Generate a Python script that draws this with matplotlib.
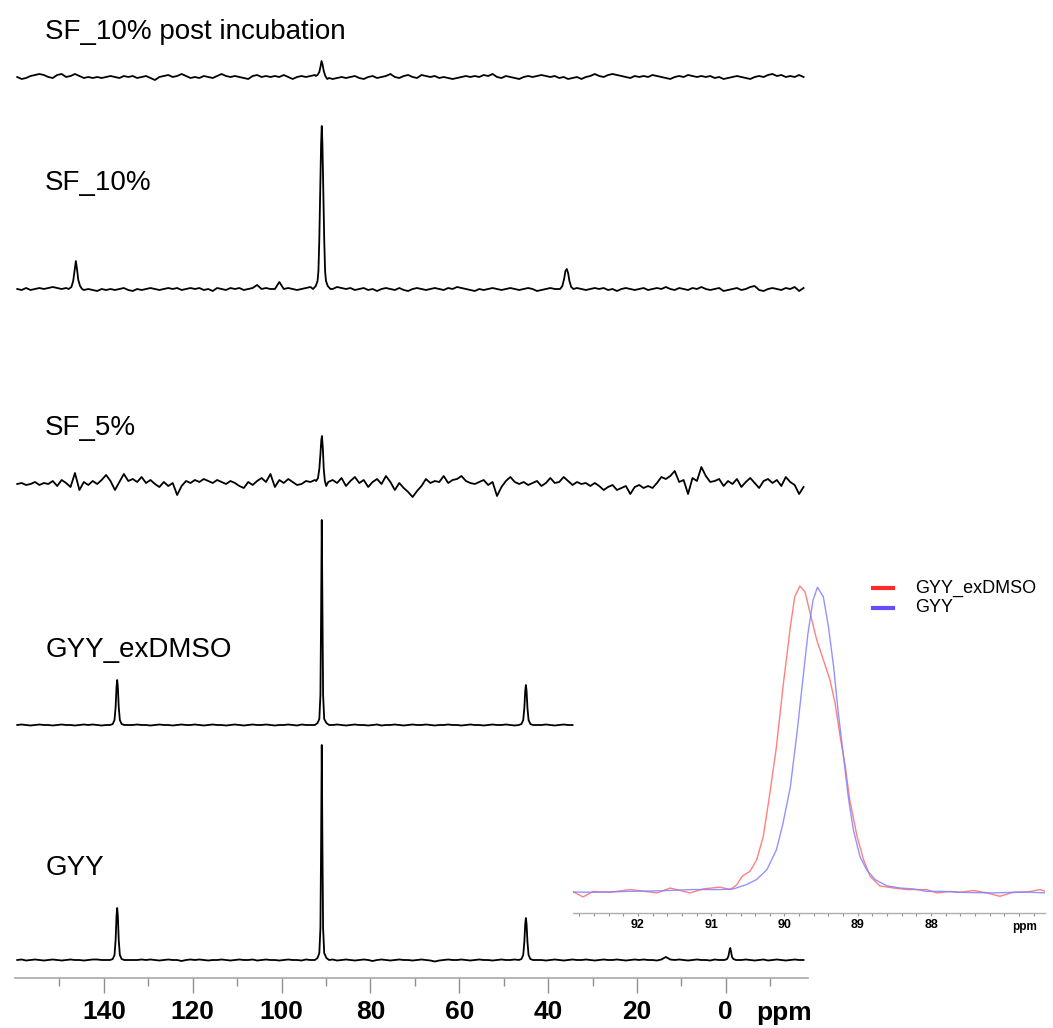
import numpy as np
import matplotlib
matplotlib.use('Agg')
import matplotlib.pyplot as plt
from matplotlib import font_manager
from matplotlib.lines import Line2D

# 字体: 刻度用窄体粗字
names = {f.name for f in font_manager.fontManager.ttflist}
NARROW = 'Liberation Sans Narrow' if 'Liberation Sans Narrow' in names else 'Liberation Sans'
TICK_SIZE = 22 if NARROW == 'Liberation Sans Narrow' else 19
plt.rcParams['font.family'] = ['Liberation Sans', 'DejaVu Sans']

# ---------------- data ----------------
# baseline noise sampled every 1 ppm from 159.5 down to -17.5 (height above baseline)
ppm_grid = np.arange(159.5, -18.0, -1.0)

post_noise = [0, -2, -1, 1, 2, 3, 2, 0, -1, 2,
              3, 0, 1, 3, 1, -1, 0, -1, 0, -1,
              0, 1, 0, -1, 1, 0, 1, -1, 0, 1,
              -1, -3, 0, 1, 2, 0, 1, 3, 1, -1,
              0, -1, 1, 0, -1, 1, 3, 1, 0, 1,
              0, -1, -2, 1, 2, 0, 1, 0, 1, 0,
              2, 0, -2, 0, 1, 0, 1, 2, 0, 0,
              0, -2, -1, 0, -1, 0, 1, -1, -2, 0,
              1, -1, 0, 1, 3, 0, -1, 1, 2, 0,
              -1, 2, 1, 0, 1, -1, 0, -1, -2, -1,
              0, 1, 0, 1, 0, 2, 1, 3, 0, -1,
              1, 0, -1, -2, 0, 1, 0, 1, 2, 1,
              0, 1, -1, 0, -2, -1, 0, -2, 0, 1,
              3, 1, 0, 2, 3, 2, 1, 0, -1, 1,
              0, 1, 0, 2, 1, 0, -1, -2, 0, 1,
              0, 2, 1, 0, 1, 0, 1, -1, 0, -2,
              -1, 0, 1, 0, -1, -2, 0, 1, 0, 2,
              3, 1, 2, 0, 1, 0, 2, 0]

sf10_noise = [0, -1, 1, -1, 0, 1, 0, 1, 2, 1,
              0, 1, 0, 0, 0, -1, 0, -1, -2, 0,
              -1, 0, -1, 0, 1, -1, -2, 0, -1, 0,
              1, 0, -1, 0, 1, 0, 1, -1, 0, 1,
              0, 1, -1, 0, -2, 1, 0, -1, 1, 0,
              1, -1, 0, 1, 4, 0, 1, 0, 0, 7,
              0, 1, 0, -1, 0, 1, 2, 0, 0, 0,
              0, 0, 2, 1, 0, 1, -1, 0, 1, -1,
              0, -2, 0, 1, 0, -1, 1, -1, -2, 0,
              1, 0, -1, 0, 1, 0, -1, 1, 0, 2,
              1, 0, -1, -2, 0, -1, 0, 1, 0, -1,
              0, 1, 0, -1, 0, 1, 0, -2, -1, 0,
              1, 0, 0, 0, 0, 0, 1, 0, -1, 0,
              1, 0, 1, -1, 0, -2, 0, 1, 0, -1,
              0, 1, -1, 0, 1, 0, 2, 0, -1, 1,
              0, -1, 1, 0, 2, 0, -1, 0, 1, -2,
              -1, 0, 1, -1, 0, 2, 3, -1, -2, 0,
              1, 0, -1, 1, 0, 2, -2, 1]

sf5_noise = [0, 1, -1, 0, 2, -1, 1, 0, 3, -2,
             4, 1, -3, 11, -6, 2, -1, 3, 0, 4,
             9, 3, -6, 2, 10, 3, 5, 2, 7, 1,
             4, 0, -3, 2, -2, 1, -11, -2, 3, 1,
             4, 2, 5, 3, 1, 4, 2, 0, 3, 1,
             -2, -4, 2, -1, 3, 6, 2, 10, -3, 4,
             1, 5, 2, -1, 0, 3, 2, 4, 0, 0,
             0, 4, 1, 6, -2, 3, 7, 1, 4, -3,
             2, 5, 0, 8, 2, -6, 1, -4, -8, -13,
             -7, -2, 5, 1, 3, 2, 8, 1, 4, 5,
             8, 3, 1, 0, 2, 4, -1, 2, -12, -3,
             3, 7, 2, 0, 2, -1, 1, 3, -2, 1,
             6, 1, 2, 7, 3, -1, 2, 0, 1, -2,
             1, -2, -6, -3, -1, -6, -4, -2, -10, -3,
             -1, -4, -2, -4, 1, 7, 5, 8, 13, 2,
             4, -10, 6, 3, 17, 8, 2, 3, 5, -2,
             3, 0, 5, -3, 2, 6, 1, -4, 3, 5,
             1, 4, -2, 7, 2, -1, -10, -3]

exdmso_noise = [0, 0.5, 0, -0.5, 0, 0.5, 0, 0, -0.5, 0,
                0.5, 0, 0, -0.5, 0, 0.5, 0, 0.5, 0, -0.5,
                0, 0, 0, 0, 0, 0, 0, 0.5, 0, 0,
                -0.5, 0, 0.5, 0, 0, -0.5, 0, 0.5, 0, 0,
                0.5, 0, -0.5, 0, 0.5, 0, 0, -0.5, 0, 0.5,
                0, -0.5, 0, 0.5, 0, 0, 0.5, 0, -0.5, 0,
                0, 0.5, 0, -0.5, 0.5, 0, 0, 0, 0, 0,
                0, 0, 0.5, 0, -0.5, 0, 0.5, 0, 0, -0.5,
                0, 0.5, -0.5, 0, 0, 0.5, 0, -0.5, 0, 0.5,
                0, 0, 0.5, 0, -0.5, 0, 0, 0.5, 0, 0,
                -0.5, 0, 0.5, 0, 0, -0.5, 0, 0.5, 0, 0,
                0.5, 0, -0.5, 0, 0, 0, 0, 0, 0, 0.5,
                0, -0.5, 0, 0.5, 0, 0]

gyy_noise = [0, 0.5, -0.5, 0, 0.5, 0, -0.5, 0, 0.5, 0,
             -0.5, 0, 0.5, 0, 0, -0.5, 0, 0.5, 0.5, 0,
             0, -0.5, 0, 0, 0, 0, 0, 0, 0.5, 0,
             0.5, 0, -0.5, 0, 0.5, 0, 0, -1, 0, 0.5,
             0, 0.5, 0, -0.5, 0, 0, 0.5, 0, -0.5, 0,
             0.5, 0, 0, 0.5, -0.5, 0, 0.5, 0, 0, -0.5,
             0, 0.5, 0, 0, -0.5, 0.5, 0, 0, 0, 0,
             0, 0.5, -0.5, 0, 0.5, 0, -0.5, 0, 0.5, 0,
             -1, 0, 0.5, 0, -0.5, 0, 0.5, 0, 0, -0.5,
             0, 0.5, 0, -0.5, -1.5, -0.5, 0, 0.5, 0, 0,
             0.5, 0, -0.5, 0, 0.5, 0, 0, -0.5, 0, 0.5,
             0, 0, 0.5, 0, 0, 0, 0, 0, 0, -0.5,
             0, 0.5, 0, -0.5, 0, 0.5, 0, 0, 0.5, 0,
             -0.5, 0, 0.5, 0, 0, 0.5, 0, -0.5, 0, 0.5,
             0, 0.5, 0, 0, -0.5, 0.5, 3, 0.5, 0, 0.5,
             0, -0.5, 0, 0.5, 0, 0, -0.5, 0.5, 0, 0,
             0, 0, 0, 0, 0.5, 0, -0.5, 0, 0.5, -0.5,
             0, 0.5, 0, -0.5, 0, 0.5, 0, 0]

# peaks: (ppm points, heights)
post_peaks = [([92.3, 91.9, 91.5, 91.25, 91.0, 90.75, 90.5, 90.15, 89.7, 89.3],
               [1, 2, 5, 10, 16, 12, 6, 1, -2, -1])]

sf10_peaks = [([147.9, 147.3, 146.9, 146.6, 146.3, 146.05, 145.75, 145.35, 144.9],
               [0, 2, 8, 18, 28, 20, 9, 3, 0]),
              ([92.9, 92.3, 91.9, 91.7, 91.5, 91.3, 91.1, 90.95, 90.8, 90.6, 90.4, 90.2, 90.0, 89.6, 89.0],
               [0, 3, 8, 18, 50, 100, 145, 163, 145, 100, 50, 18, 8, 3, 0]),
              ([37.3, 36.8, 36.4, 36.1, 35.8, 35.5, 35.2, 34.8, 34.3],
               [0, 3, 10, 18, 20, 16, 8, 2, 0])]

sf5_peaks = [([92.2, 91.8, 91.5, 91.25, 91.05, 90.9, 90.7, 90.5, 90.25, 89.95, 89.5],
              [3, 6, 15, 30, 44, 48, 35, 15, 3, -2, 2])]

exdmso_peaks = [([138.6, 138.0, 137.6, 137.35, 137.15, 137.0, 136.85, 136.65, 136.4, 136.0, 135.4],
                 [0, 1, 5, 18, 38, 45, 38, 18, 5, 1, 0]),
                ([92.5, 91.9, 91.5, 91.25, 91.1, 90.95, 90.8, 90.65, 90.4, 89.9, 89.3],
                 [0, 2, 6, 30, 110, 205, 110, 30, 6, 2, 0]),
                ([46.6, 46.0, 45.6, 45.35, 45.15, 45.0, 44.85, 44.65, 44.4, 44.0, 43.4],
                 [0, 1, 5, 17, 34, 40, 34, 17, 5, 1, 0])]

gyy_peaks = [([138.6, 138.0, 137.6, 137.35, 137.15, 137.0, 136.85, 136.65, 136.4, 136.0, 135.4],
              [0, 1, 5, 20, 44, 52, 44, 20, 5, 1, 0]),
             ([92.5, 91.9, 91.5, 91.25, 91.1, 90.95, 90.8, 90.65, 90.4, 89.9, 89.3],
              [0, 2, 7, 32, 115, 215, 115, 32, 7, 2, 0]),
             ([46.6, 46.0, 45.6, 45.35, 45.15, 45.0, 44.85, 44.65, 44.4, 44.0, 43.4],
              [0, 1, 5, 18, 36, 42, 36, 18, 5, 1, 0]),
             ([0.3, -0.3, -0.6, -0.85, -1.0, -1.15, -1.4, -1.7, -2.3],
              [0, 1, 4, 10, 12, 9, 3, 1, 0])]

labels = ['SF_10% post incubation', 'SF_10%', 'SF_5%', 'GYY_exDMSO', 'GYY']
noises = [post_noise, sf10_noise, sf5_noise, exdmso_noise, gyy_noise]
peaks = [post_peaks, sf10_peaks, sf5_peaks, exdmso_peaks, gyy_peaks]

# inset: C90 region, normalised intensity
red_ppm = [92.88, 92.75, 92.61, 92.38, 92.11, 91.74, 91.56, 91.29, 91.11, 90.88, 90.74, 90.65,
           90.58, 90.47, 90.38, 90.29, 90.20, 90.11, 90.02, 89.92, 89.86, 89.79, 89.72, 89.65,
           89.56, 89.47, 89.38, 89.31, 89.24, 89.17, 89.11, 89.01, 88.92, 88.83, 88.70, 88.51,
           88.33, 88.06, 87.92, 87.74, 87.60, 87.42, 87.24, 87.06, 86.88, 86.69, 86.51, 86.44]
red_int = [0, -0.016, 0.002, -0.001, 0.008, -0.003, 0.013, -0.003, 0.010, 0.016, 0.008, 0.024,
           0.051, 0.068, 0.105, 0.181, 0.322, 0.475, 0.671, 0.867, 0.965, 1.0, 0.981, 0.911,
           0.824, 0.759, 0.694, 0.617, 0.508, 0.410, 0.302, 0.182, 0.105, 0.051, 0.020, 0.013,
           0.008, 0.008, -0.003, 0.002, -0.001, 0.005, -0.003, -0.014, -0.001, 0, 0.008, 0.002]
blue_ppm = [92.88, 92.61, 92.15, 91.70, 91.25, 90.88, 90.70, 90.52, 90.38, 90.24, 90.11, 90.02,
            89.92, 89.83, 89.74, 89.68, 89.61, 89.55, 89.47, 89.40, 89.33, 89.27, 89.20, 89.13,
            89.06, 88.97, 88.88, 88.76, 88.60, 88.42, 88.24, 88.06, 87.83, 87.60, 87.15, 86.69, 86.44]
blue_int = [0, -0.001, 0.002, 0.004, 0.008, 0.008, 0.010, 0.024, 0.041, 0.073, 0.138, 0.225,
            0.344, 0.519, 0.715, 0.845, 0.954, 0.996, 0.965, 0.867, 0.737, 0.595, 0.454, 0.312,
            0.203, 0.116, 0.073, 0.040, 0.020, 0.013, 0.010, 0.002, 0.002, -0.001, -0.003, 0, -0.003]
inset_labels = ['GYY_exDMSO', 'GYY']

# ---------------- layout ----------------
W, H = 1053, 1028
baselines = [77, 289, 484, 725, 960]   # px from top
label_y = [32, 183, 428, 650, 868]


def build_trace(noise, peak_list):
    x = ppm_grid[:len(noise)]
    y = np.array(noise, dtype=float)
    keep = np.ones(len(x), dtype=bool)
    for px, py in peak_list:
        keep &= ~((x <= max(px)) & (x >= min(px)))
    xs = np.concatenate([x[keep]] + [np.array(p[0]) for p in peak_list])
    ys = np.concatenate([y[keep]] + [np.array(p[1], dtype=float) for p in peak_list])
    order = np.argsort(-xs)
    return xs[order], ys[order]


fig = plt.figure(figsize=(W / 100, H / 100), dpi=100)
ax = fig.add_axes([15 / W, 50 / H, 793 / W, 978 / H])
ax.set_xlim(160, -18.5)
ax.set_ylim(978, 0)

for lab, noise, pk, base, ly in zip(labels, noises, peaks, baselines, label_y):
    xs, ys = build_trace(noise, pk)
    ax.plot(xs, base - ys, color='black', lw=1.3)
    ax.text(153.2, ly, lab, fontsize=20, va='center', ha='left')

for s in ['top', 'left', 'right']:
    ax.spines[s].set_visible(False)
ax.spines['bottom'].set_color('#a8a8a8')
ax.spines['bottom'].set_linewidth(1.2)
ax.set_yticks([])
ax.set_xticks(np.arange(140, -1, -20))
ax.set_xticks(np.arange(150, -19, -10), minor=True)
ax.tick_params(axis='x', which='major', length=11, width=1, color='#909090', pad=5)
ax.tick_params(axis='x', which='minor', length=6, width=1, color='#909090')
for t in ax.get_xticklabels():
    t.set_fontfamily(NARROW)
    t.set_fontweight('bold')
    t.set_fontsize(TICK_SIZE)
ax.annotate('ppm', xy=(-13.0, 0), xycoords=('data', 'axes fraction'),
            xytext=(0, -16.5), textcoords='offset points', ha='center', va='top',
            fontsize=TICK_SIZE, fontweight='bold', family=NARROW)

# ---------------- inset ----------------
ins = fig.add_axes([573 / W, (H - 913) / H, 472 / W, 338 / H])
ins.patch.set_alpha(0)
ins.plot(red_ppm, red_int, color='#ff6a6a', lw=1.0, alpha=0.85)
ins.plot(blue_ppm, blue_int, color='#8080ff', lw=1.0, alpha=0.85)
ins.set_xlim(92.887, 86.444)
ins.set_ylim(-0.0686, 1.036)
for s in ['top', 'left', 'right']:
    ins.spines[s].set_visible(False)
ins.spines['bottom'].set_color('#b0b0b0')
ins.spines['bottom'].set_linewidth(1.0)
ins.set_yticks([])
ins.set_xticks([92, 91, 90, 89, 88])
ins.set_xticks(np.arange(92.8, 86.4, -0.2), minor=True)
ins.tick_params(axis='x', which='both', length=2.5, width=0.8, color='#909090', pad=2)
for t in ins.get_xticklabels():
    t.set_fontweight('bold')
    t.set_fontsize(9)
ins.annotate('ppm', xy=(86.72, 0), xycoords=('data', 'axes fraction'),
             xytext=(0, -6), textcoords='offset points', ha='center', va='top',
             fontsize=8.5, fontweight='bold')

# legend (drawn in figure pixels)
for lab, col, yy in zip(inset_labels, ['#ff2a2a', '#6a4cff'], [588, 608]):
    fig.add_artist(Line2D([873 / W, 893 / W], [(H - yy) / H] * 2, color=col, lw=3,
                          transform=fig.transFigure))
    fig.text(915 / W, (H - yy) / H, lab, fontsize=13, va='center', ha='left')

fig.savefig('out.png', dpi=100)
